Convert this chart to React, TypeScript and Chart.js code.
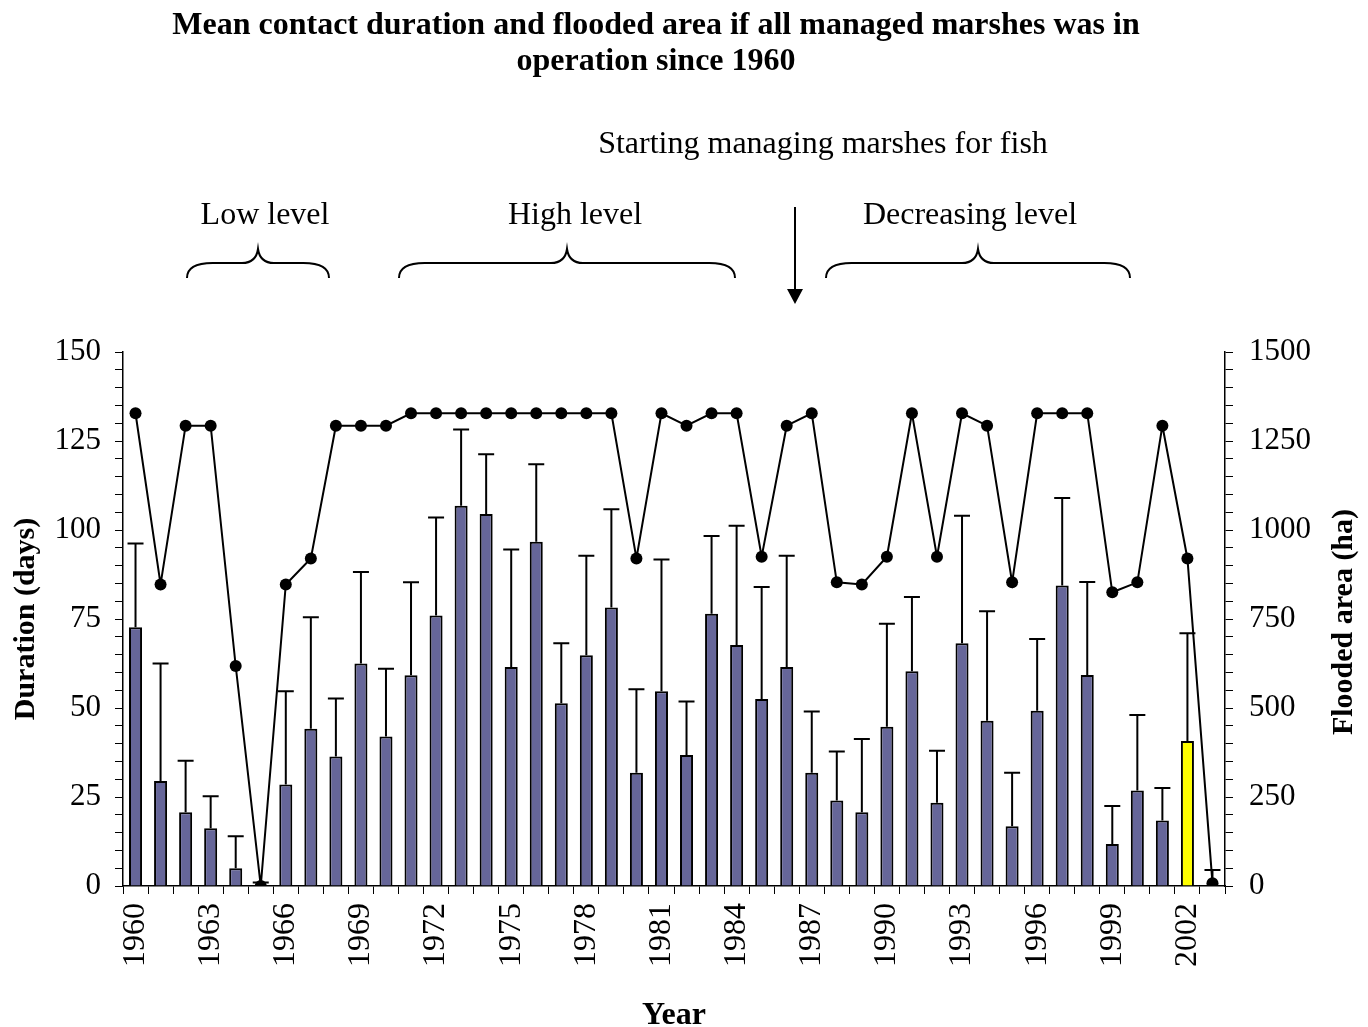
import React, { useEffect, useRef } from 'react';
import { Chart, registerables } from 'chart.js';

Chart.register(...registerables);

const years = [
  '1960', '1961', '1962', '1963', '1964', '1965', '1966', '1967', '1968', '1969',
  '1970', '1971', '1972', '1973', '1974', '1975', '1976', '1977', '1978', '1979',
  '1980', '1981', '1982', '1983', '1984', '1985', '1986', '1987', '1988', '1989',
  '1990', '1991', '1992', '1993', '1994', '1995', '1996', '1997', '1998', '1999',
  '2000', '2001', '2002', '2003',
];

// Mean contact duration (days)
const duration = [
  72.7, 29.5, 20.7, 16.2, 5, 0, 28.5, 44.2, 36.4, 62.5,
  42, 59.2, 76, 106.8, 104.5, 61.5, 96.7, 51.3, 64.8, 78.2,
  31.8, 54.7, 36.8, 76.5, 67.7, 52.5, 61.5, 31.8, 24, 20.7,
  44.7, 60.3, 23.4, 68.2, 46.4, 16.8, 49.2, 84.4, 59.3, 11.8,
  26.8, 18.4, 40.7, 0,
];

// Upper error (days)
const durationError = [
  23.5, 33, 14.5, 9, 9, 1, 26.2, 31.3, 16.3, 25.7,
  19, 26.1, 27.5, 21.4, 16.8, 33, 21.8, 16.9, 28, 27.6,
  23.5, 37, 15, 21.8, 33.5, 31.5, 31.3, 17.2, 13.8, 20.6,
  29, 20.9, 14.6, 35.8, 30.8, 15, 20.2, 24.6, 26.1, 10.7,
  21.2, 9.1, 30.3, 4.5,
];

// Flooded area (ha)
const floodedArea = [
  1328, 847, 1293, 1293, 618, 0, 847, 920, 1293, 1293,
  1293, 1328, 1328, 1328, 1328, 1328, 1328, 1328, 1328, 1328,
  920, 1328, 1293, 1328, 1328, 925, 1293, 1328, 853, 847,
  925, 1328, 925, 1328, 1293, 853, 1328, 1328, 1328, 825,
  853, 1293, 920, 8,
];

const highlightYear = '2002';
const leftAxis = { min: 0, max: 150, minor: 5, major: 25 };
const rightAxis = { min: 0, max: 1500, minor: 50, major: 250 };
const labelEvery = 3;

const titleLines = [
  'Mean contact duration and flooded area if all managed marshes was in',
  'operation since 1960',
];
const startText = 'Starting managing marshes for fish';
const periods = [
  { label: 'Low level', x0: 187, x1: 329, tx: 265 },
  { label: 'High level', x0: 399, x1: 735, tx: 575 },
  { label: 'Decreasing level', x0: 826, x1: 1130, tx: 970 },
];

const FONT = '"Liberation Serif", "Times New Roman", serif';
const BAR_COLOR = '#666699';
const HIGHLIGHT_COLOR = '#FFFF00';

const errorBarPlugin = {
  id: 'errorBars',
  afterDatasetDraw(chart: any, args: any) {
    if (args.index !== 0) return;
    const meta = chart.getDatasetMeta(0);
    const yScale = chart.scales.y;
    const ctx = chart.ctx;
    ctx.save();
    ctx.strokeStyle = '#000';
    ctx.lineWidth = 2;
    meta.data.forEach((bar: any, i: number) => {
      const yBase = yScale.getPixelForValue(duration[i]);
      const yTop = yScale.getPixelForValue(duration[i] + durationError[i]);
      ctx.beginPath();
      ctx.moveTo(bar.x, yBase);
      ctx.lineTo(bar.x, yTop);
      ctx.moveTo(bar.x - 8, yTop);
      ctx.lineTo(bar.x + 8, yTop);
      ctx.stroke();
    });
    ctx.restore();
  },
};

function drawBrace(ctx: CanvasRenderingContext2D, x0: number, x1: number, yEnd: number, yLine: number, yPeak: number) {
  const xm = (x0 + x1) / 2;
  const r = 16;
  ctx.beginPath();
  ctx.moveTo(x0, yEnd);
  ctx.quadraticCurveTo(x0, yLine, x0 + r * 1.6, yLine);
  ctx.lineTo(xm - r, yLine);
  ctx.quadraticCurveTo(xm - 2, yLine, xm, yPeak);
  ctx.quadraticCurveTo(xm + 2, yLine, xm + r, yLine);
  ctx.lineTo(x1 - r * 1.6, yLine);
  ctx.quadraticCurveTo(x1, yLine, x1, yEnd);
  ctx.stroke();
}

const annotationPlugin = {
  id: 'annotations',
  afterDraw(chart: any) {
    const ctx: CanvasRenderingContext2D = chart.ctx;
    const area = chart.chartArea;
    ctx.save();
    ctx.fillStyle = '#000';
    ctx.strokeStyle = '#000';
    ctx.textAlign = 'center';
    ctx.textBaseline = 'alphabetic';

    // Title
    ctx.font = `bold 32px ${FONT}`;
    ctx.fillText(titleLines[0], 656, 34);
    ctx.fillText(titleLines[1], 656, 70);

    // Annotation texts
    ctx.font = `32px ${FONT}`;
    ctx.fillText(startText, 823, 153);
    periods.forEach((p) => {
      ctx.fillText(p.label, p.tx, 224);
    });

    // Braces
    ctx.lineWidth = 2;
    periods.forEach((p) => drawBrace(ctx, p.x0, p.x1, 278, 263, 249));

    // Arrow
    ctx.beginPath();
    ctx.moveTo(795, 207);
    ctx.lineTo(795, 292);
    ctx.stroke();
    ctx.beginPath();
    ctx.moveTo(787, 289);
    ctx.lineTo(803, 289);
    ctx.lineTo(795, 304);
    ctx.closePath();
    ctx.fill();

    // Axis titles
    const midY = (area.top + area.bottom) / 2;
    ctx.font = `bold 30px ${FONT}`;
    ctx.textBaseline = 'middle';
    ctx.save();
    ctx.translate(26, midY);
    ctx.rotate(-Math.PI / 2);
    ctx.fillText('Duration (days)', 0, 0);
    ctx.restore();
    ctx.save();
    ctx.translate(1344, midY + 3);
    ctx.rotate(-Math.PI / 2);
    ctx.fillText('Flooded area (ha)', 0, 0);
    ctx.restore();

    ctx.textBaseline = 'alphabetic';
    ctx.font = `bold 32px ${FONT}`;
    ctx.fillText('Year', (area.left + area.right) / 2, 1024);
    ctx.restore();
  },
};

export default function App() {
  const canvasRef = useRef<HTMLCanvasElement | null>(null);

  useEffect(() => {
    if (!canvasRef.current) return;
    const tickFont = { family: FONT, size: 31 };
    const chart = new Chart(canvasRef.current, {
      type: 'bar',
      data: {
        labels: years,
        datasets: [
          {
            type: 'bar',
            label: 'Duration (days)',
            data: duration,
            backgroundColor: years.map((y) => (y === highlightYear ? HIGHLIGHT_COLOR : BAR_COLOR)),
            borderColor: '#000',
            borderWidth: 2,
            barPercentage: 0.52,
            categoryPercentage: 1,
            yAxisID: 'y',
            order: 2,
          },
          {
            type: 'line',
            label: 'Flooded area (ha)',
            data: floodedArea,
            borderColor: '#000',
            borderWidth: 2,
            pointRadius: 6,
            pointBackgroundColor: '#000',
            pointBorderColor: '#000',
            pointBorderWidth: 0,
            tension: 0,
            yAxisID: 'y1',
            order: 1,
          },
        ] as any,
      },
      options: {
        animation: false,
        responsive: false,
        layout: { padding: { top: 352, left: 0, right: 0, bottom: 0 } },
        plugins: {
          legend: { display: false },
          tooltip: { enabled: false },
          title: { display: false },
        },
        scales: {
          x: {
            type: 'category',
            offset: true,
            grid: { offset: true, drawOnChartArea: false, drawTicks: true, tickLength: 8, color: '#000', lineWidth: 1 },
            border: { display: true, color: '#000', width: 1.5 },
            ticks: {
              autoSkip: false,
              maxRotation: 90,
              minRotation: 90,
              padding: 9,
              color: '#000',
              font: { family: FONT, size: 32 },
              callback: (_v: any, i: number) => (i % labelEvery === 0 ? years[i] : ''),
            },
            afterFit: (s: any) => {
              s.height = 141;
            },
          },
          y: {
            position: 'left',
            min: leftAxis.min,
            max: leftAxis.max,
            grid: { drawOnChartArea: false, drawTicks: true, tickLength: 8, color: '#000', lineWidth: 1 },
            border: { display: true, color: '#000', width: 1.5 },
            ticks: {
              stepSize: leftAxis.minor,
              autoSkip: false,
              padding: 14,
              color: '#000',
              font: tickFont,
              callback: (v: any) => (Number(v) % leftAxis.major === 0 ? String(v) : ''),
            },
            afterFit: (s: any) => {
              s.width = 123;
            },
          },
          y1: {
            position: 'right',
            min: rightAxis.min,
            max: rightAxis.max,
            grid: { drawOnChartArea: false, drawTicks: true, tickLength: 8, color: '#000', lineWidth: 1 },
            border: { display: true, color: '#000', width: 1.5 },
            ticks: {
              stepSize: rightAxis.minor,
              autoSkip: false,
              padding: 16,
              color: '#000',
              font: tickFont,
              callback: (v: any) => (Number(v) % rightAxis.major === 0 ? String(v) : ''),
            },
            afterFit: (s: any) => {
              s.width = 143;
            },
          },
        },
      } as any,
      plugins: [errorBarPlugin, annotationPlugin],
    });
    return () => chart.destroy();
  }, []);

  return (
    <div style={{ position: 'fixed', left: 0, top: 0, width: 1368, height: 1027, background: '#fff' }}>
      <canvas ref={canvasRef} width={1368} height={1027} style={{ display: 'block' }} />
    </div>
  );
}
